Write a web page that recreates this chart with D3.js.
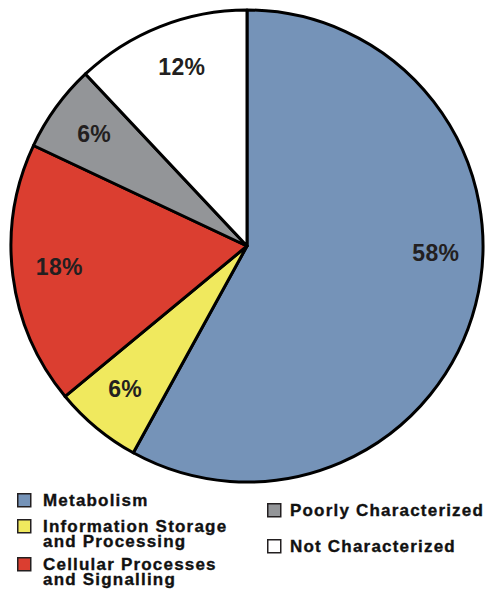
<!DOCTYPE html>
<html>
<head>
<meta charset="utf-8">
<script src="https://cdn.jsdelivr.net/npm/d3@7"></script>
<style>
  html, body { margin: 0; padding: 0; background: #ffffff; }
  svg { display: block; }
  text { font-family: "Liberation Sans", Arial, sans-serif; font-weight: bold; }
</style>
</head>
<body>
<svg id="chart" width="495" height="593"></svg>
<script>
// Functional categories and their share of the total (percent)
const categories = ["Metabolism", "Information Storage and Processing", "Cellular Processes and Signalling", "Poorly Characterized", "Not Characterized"];
const values = [58, 6, 18, 6, 12];
const colors = ["#7593b8", "#f0e95e", "#db3e30", "#939598", "#ffffff"];
const legendLines = [["Metabolism"], ["Information Storage", "and Processing"], ["Cellular Processes", "and Signalling"], ["Poorly Characterized"], ["Not Characterized"]];

const svg = d3.select("#chart");
const cx = 247, cy = 246, R = 236;

const data = categories.map((c, i) => ({ name: c, value: values[i], color: colors[i] }));

const pie = d3.pie().value(d => d.value).sort(null);
const arcs = pie(data);

const arc = d3.arc().innerRadius(0).outerRadius(R);
const labelArc = d3.arc().innerRadius(189).outerRadius(189);

const g = svg.append("g").attr("transform", `translate(${cx},${cy})`);

g.selectAll("path.slice")
  .data(arcs)
  .join("path")
  .attr("class", "slice")
  .attr("d", arc)
  .attr("fill", d => d.data.color)
  .attr("stroke", "#000")
  .attr("stroke-width", 3)
  .attr("stroke-linejoin", "round");

// The large slice's label is pulled up toward the horizontal
const angleNudge = [-0.21, 0.01, 0.01, 0, 0.025];
g.selectAll("text.pct")
  .data(arcs)
  .join("text")
  .attr("class", "pct")
  .attr("transform", (d, i) => {
    const a0 = d.startAngle + angleNudge[i], a1 = d.endAngle + angleNudge[i];
    const [x, y] = labelArc.centroid({ startAngle: a0, endAngle: a1 });
    return `translate(${x},${y})`;
  })
  .attr("text-anchor", "middle")
  .attr("dy", "0.3em")
  .attr("fill", "#231f20")
  .style("font-size", "23px")
  .style("letter-spacing", "0.3px")
  .text(d => d.data.value + "%");

// Legend: two columns
const legendPos = [
  { x: 17, y: 493 },
  { x: 17, y: 519 },
  { x: 17, y: 557 },
  { x: 267, y: 503 },
  { x: 267, y: 539 }
];
const box = 13;
const lineH = 15;

const lg = svg.append("g");
const items = lg.selectAll("g.item")
  .data(data)
  .join("g")
  .attr("class", "item")
  .attr("transform", (d, i) => `translate(${legendPos[i].x},${legendPos[i].y})`);

items.append("rect")
  .attr("x", 0.75).attr("y", 0.75)
  .attr("width", box).attr("height", box)
  .attr("fill", d => d.color)
  .attr("stroke", "#231f20")
  .attr("stroke-width", 1.5);

items.append("text")
  .attr("x", (d, i) => i < 3 ? 26 : 23)
  .attr("y", 12.5)
  .attr("fill", "#111")
  .attr("stroke", "#111")
  .attr("stroke-width", 0.35)
  .style("font-size", "17px")
  .style("letter-spacing", "1.2px")
  .selectAll("tspan")
  .data((d, i) => legendLines[i])
  .join("tspan")
  .attr("x", function () { return d3.select(this.parentNode).attr("x"); })
  .attr("dy", (t, j) => j === 0 ? 0 : lineH)
  .text(t => t);
</script>
</body>
</html>
